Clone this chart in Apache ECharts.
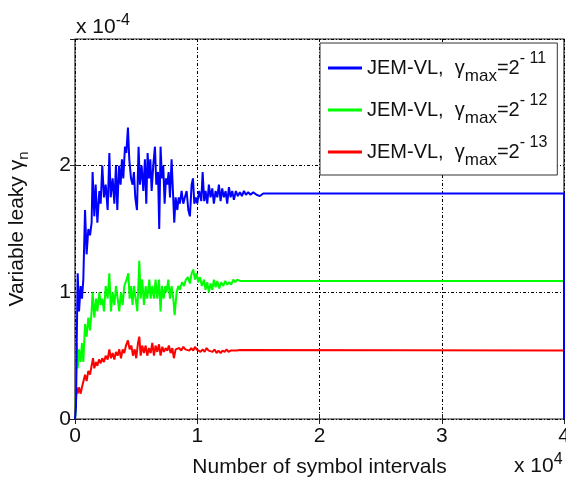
<!DOCTYPE html>
<html>
<head>
<meta charset="utf-8">
<script src="https://cdn.jsdelivr.net/npm/echarts@6/dist/echarts.min.js"></script>
<style>
  html, body { margin: 0; padding: 0; background: #fff; }
  #chart { width: 566px; height: 486px; }
</style>
</head>
<body>
<div id="chart"></div>
<script>
// Symbol index (x) and leaky factor in units of 1e-4 (y)
const xTicks = [0, 10000, 20000, 30000, 40000];
const yTicks = [0, 1, 2, 3];

const seriesNames = ['JEM-VL, γmax=2^-11', 'JEM-VL, γmax=2^-12', 'JEM-VL, γmax=2^-13'];
const seriesExponents = ['-11', '-12', '-13'];

// gamma_max = 2^-11
const leaky11 = [
  [0, 0], [80, 0.1], [140, 0.6], [220, 1.15], [330, 0.85], [460, 1.05], [570, 0.95], [680, 1.1],
  [820, 1.65], [950, 1.3], [1090, 1.5], [1230, 1.45], [1360, 1.55], [1440, 1.95], [1580, 1.6],
  [1690, 1.85], [1830, 1.55], [1990, 1.8], [2100, 1.7], [2230, 2.0], [2370, 1.75], [2510, 1.85],
  [2670, 1.65], [2810, 2.1], [2920, 1.75], [3080, 1.9], [3220, 1.7], [3350, 2.0], [3460, 1.65],
  [3600, 2.0], [3730, 1.85], [3840, 2.05], [3950, 1.9], [4090, 2.15], [4200, 2.1], [4330, 2.3],
  [4440, 2.05], [4580, 1.9], [4710, 1.85], [4820, 1.95], [4930, 1.75], [5070, 1.65], [5200, 2.15],
  [5310, 1.85], [5450, 2.0], [5590, 1.8], [5720, 2.05], [5830, 1.7], [5940, 2.1], [6050, 1.9],
  [6160, 2.05], [6270, 1.8], [6400, 2.0], [6540, 2.15], [6650, 1.85], [6790, 1.95], [6890, 1.5],
  [7000, 2.15], [7110, 1.9], [7220, 2.0], [7330, 1.7], [7440, 1.9], [7550, 1.85], [7660, 1.95],
  [7770, 1.75], [7900, 2.05], [8010, 1.8], [8120, 1.55], [8230, 1.75], [8370, 1.65], [8480, 1.75],
  [8580, 1.7], [8720, 1.8], [8860, 1.7], [8990, 1.75], [9130, 1.8], [9270, 1.65], [9400, 1.6],
  [9540, 1.85], [9650, 1.9], [9760, 1.7], [9890, 1.75], [10000, 1.7], [10160, 1.8], [10330, 1.72],
  [10440, 1.95], [10570, 1.72], [10680, 1.8], [10820, 1.7], [10950, 1.85], [11090, 1.75],
  [11230, 1.82], [11360, 1.7], [11500, 1.8], [11640, 1.75], [11770, 1.85], [11910, 1.72],
  [12040, 1.82], [12180, 1.75], [12320, 1.8], [12450, 1.7], [12590, 1.83], [12730, 1.75],
  [12860, 1.8], [13000, 1.73], [13160, 1.8], [13320, 1.76], [13490, 1.79], [13650, 1.76],
  [13820, 1.8], [13980, 1.77], [14170, 1.79], [14360, 1.77], [14580, 1.79], [14850, 1.77],
  [15120, 1.76], [15400, 1.78], [40000, 1.78], [40000, 0]
];

// gamma_max = 2^-12
const leaky12 = [
  [0, 0], [50, 0.05], [140, 0.6], [220, 0.4], [330, 0.55], [460, 0.45], [570, 0.6], [680, 0.45],
  [820, 0.75], [950, 0.65], [1090, 0.8], [1230, 0.7], [1360, 0.85], [1440, 1.0], [1580, 0.8],
  [1720, 0.95], [1830, 0.85], [1990, 1.0], [2100, 0.9], [2230, 0.95], [2370, 0.85], [2510, 1.05],
  [2670, 0.95], [2810, 1.15], [2940, 0.85], [3080, 1.0], [3220, 0.9], [3350, 1.05], [3490, 0.95],
  [3620, 0.85], [3760, 1.0], [3900, 0.9], [4030, 1.05], [4110, 1.05], [4220, 1.1], [4360, 1.15],
  [4470, 0.95], [4580, 1.05], [4710, 0.9], [4820, 1.05], [4960, 0.95], [5100, 0.85], [5260, 1.25],
  [5370, 0.95], [5500, 1.1], [5640, 0.9], [5780, 1.05], [5910, 0.95], [6080, 1.1], [6190, 0.95],
  [6320, 1.05], [6460, 0.95], [6590, 1.1], [6730, 0.95], [6870, 1.1], [7000, 0.85], [7110, 1.05],
  [7250, 0.95], [7380, 1.05], [7490, 1.0], [7630, 1.1], [7770, 0.95], [7900, 1.05], [8040, 0.95],
  [8150, 0.82], [8310, 1.0], [8450, 1.05], [8580, 1.02], [8750, 1.08], [8910, 1.05], [9070, 1.1],
  [9240, 1.12], [9400, 1.07], [9540, 1.15], [9670, 1.18], [9810, 1.1], [9950, 1.15], [10080, 1.08],
  [10220, 1.12], [10380, 1.05], [10550, 1.1], [10680, 1.02], [10820, 1.08], [10950, 1.0],
  [11090, 1.07], [11230, 1.02], [11360, 1.1], [11500, 1.04], [11640, 1.09], [11800, 1.03],
  [11960, 1.08], [12130, 1.05], [12290, 1.09], [12450, 1.06], [12620, 1.08], [12780, 1.06],
  [12940, 1.1], [13110, 1.08], [13270, 1.1], [13490, 1.09], [13710, 1.09], [40000, 1.09], [40000, 0]
];

// gamma_max = 2^-13
const leaky13 = [
  [0, 0], [50, 0.0], [140, 0.25], [220, 0.2], [330, 0.25], [460, 0.2], [570, 0.25], [680, 0.25],
  [820, 0.35], [950, 0.3], [1090, 0.38], [1230, 0.35], [1360, 0.42], [1470, 0.48], [1580, 0.4],
  [1720, 0.45], [1830, 0.42], [1960, 0.47], [2100, 0.44], [2230, 0.48], [2370, 0.45], [2510, 0.5],
  [2670, 0.47], [2810, 0.55], [2940, 0.48], [3080, 0.52], [3220, 0.47], [3350, 0.53], [3490, 0.5],
  [3620, 0.55], [3760, 0.48], [3900, 0.55], [4030, 0.52], [4170, 0.58], [4330, 0.62], [4470, 0.55],
  [4610, 0.58], [4740, 0.5], [4880, 0.55], [5010, 0.48], [5150, 0.6], [5260, 0.65], [5370, 0.5],
  [5500, 0.58], [5640, 0.52], [5780, 0.58], [5910, 0.5], [6050, 0.56], [6190, 0.52], [6320, 0.6],
  [6460, 0.5], [6590, 0.58], [6730, 0.53], [6870, 0.59], [7000, 0.5], [7140, 0.57], [7280, 0.53],
  [7410, 0.56], [7550, 0.54], [7680, 0.58], [7820, 0.52], [7960, 0.56], [8090, 0.48], [8230, 0.55],
  [8370, 0.54], [8530, 0.56], [8690, 0.54], [8860, 0.57], [9020, 0.55], [9180, 0.56], [9350, 0.54],
  [9510, 0.56], [9670, 0.54], [9810, 0.57], [9950, 0.55], [10110, 0.56], [10270, 0.53],
  [10440, 0.55], [10600, 0.53], [10760, 0.56], [10930, 0.54], [11090, 0.55], [11250, 0.53],
  [11420, 0.55], [11580, 0.52], [11740, 0.54], [11910, 0.52], [12070, 0.54], [12240, 0.53],
  [12400, 0.55], [12560, 0.53], [12730, 0.54], [12940, 0.54], [13220, 0.54], [13490, 0.545],
  [40000, 0.54], [40000, 0]
];

const FONT = '"Liberation Sans", Arial, Helvetica, sans-serif';
const colors = ['#0000ff', '#00ff00', '#ff0000'];
const allData = [leaky11, leaky12, leaky13];

const chart = echarts.init(document.getElementById('chart'), null, { renderer: 'canvas' });

const gridLine = { show: true, lineStyle: { color: '#000', width: 1, type: [3, 2, 1, 2] } };
const tick = { show: true, inside: true, length: 5, lineStyle: { color: '#222' } };

const option = {
  animation: false,
  backgroundColor: '#fff',
  grid: {
    left: 75, top: 39, right: 2, bottom: 67,
    outerBoundsMode: 'none', containLabel: false,
    show: true, borderColor: '#222', borderWidth: 1.2, backgroundColor: 'transparent'
  },
  xAxis: [{
    type: 'value', min: xTicks[0], max: xTicks[xTicks.length - 1], interval: 10000,
    axisLine: { show: false },
    axisTick: tick,
    axisLabel: { color: '#111', fontFamily: FONT, fontSize: 21, margin: 7,
      hideOverlap: false, formatter: v => String(v / 10000) },
    splitLine: gridLine,
    name: 'Number of symbol intervals', nameLocation: 'middle', nameGap: 38,
    nameTextStyle: { color: '#111', fontFamily: FONT, fontSize: 21 }
  }, {
    type: 'value', position: 'top', min: 0, max: 40000, interval: 10000,
    axisLine: { show: false }, axisTick: tick,
    axisLabel: { show: false }, splitLine: { show: false }
  }],
  yAxis: [{
    type: 'value', min: yTicks[0], max: yTicks[yTicks.length - 1], interval: 1,
    axisLine: { show: false },
    axisTick: tick,
    axisLabel: { color: '#111', fontFamily: FONT, fontSize: 21, margin: 4, showMaxLabel: false },
    splitLine: gridLine,
    name: '{a|Variable leaky γ}{sub|n}', nameLocation: 'middle', nameGap: 44, nameRotate: 90,
    nameTextStyle: {
      color: '#111', fontFamily: FONT, fontSize: 21,
      rich: {
        a: { fontFamily: FONT, fontSize: 21, color: '#111', lineHeight: 28 },
        sub: { fontFamily: FONT, fontSize: 15, color: '#111', lineHeight: 14, verticalAlign: 'bottom' }
      }
    }
  }, {
    type: 'value', position: 'right', min: 0, max: 3, interval: 1,
    axisLine: { show: false }, axisTick: tick,
    axisLabel: { show: false }, splitLine: { show: false }
  }],
  legend: {
    orient: 'vertical', left: 320, top: 43,
    padding: [8, 10, 6, 8], itemGap: 8,
    itemWidth: 34, itemHeight: 3,
    backgroundColor: '#fff', borderColor: '#333', borderWidth: 1, borderRadius: 0,
    data: seriesNames.map(n => ({ name: n, icon: 'rect' })),
    formatter: name => {
      const i = seriesNames.indexOf(name);
      return '{a|JEM-VL,  γ}{sub|max}{a|=2}{sup|' + seriesExponents[i].replace('-', '- ') + '}';
    },
    textStyle: {
      fontFamily: FONT, fontSize: 20, color: '#111',
      rich: {
        a: { fontFamily: FONT, fontSize: 20, color: '#111', lineHeight: 34 },
        sub: { fontFamily: FONT, fontSize: 17, color: '#111', lineHeight: 14, verticalAlign: 'bottom' },
        sup: { fontFamily: FONT, fontSize: 16, color: '#111', lineHeight: 10, verticalAlign: 'top' }
      }
    }
  },
  graphic: [{
    type: 'text', left: 76, top: 13,
    style: {
      text: '{a|x 10}{sup|-4}',
      rich: {
        a: { fontFamily: FONT, fontSize: 21, fill: '#111', lineHeight: 28 },
        sup: { fontFamily: FONT, fontSize: 16, fill: '#111', lineHeight: 12, verticalAlign: 'top' }
      }
    }
  }, {
    type: 'text', left: 514, top: 452,
    style: {
      text: '{a|x 10}{sup|4}',
      rich: {
        a: { fontFamily: FONT, fontSize: 21, fill: '#111', lineHeight: 28 },
        sup: { fontFamily: FONT, fontSize: 16, fill: '#111', lineHeight: 12, verticalAlign: 'top' }
      }
    }
  }],
  series: allData.map((d, i) => ({
    name: seriesNames[i],
    type: 'line',
    data: d,
    symbol: 'none',
    color: colors[i],
    lineStyle: { color: colors[i], width: 2 },
    itemStyle: { color: colors[i] },
    z: 3 - i + 2
  }))
};

chart.setOption(option);
</script>
</body>
</html>
